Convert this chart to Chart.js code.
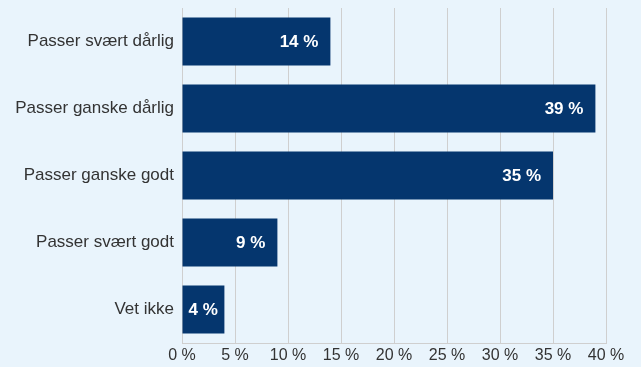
<!DOCTYPE html>
<html>
<head>
<meta charset="utf-8">
<script src="https://cdn.jsdelivr.net/npm/chart.js@4/dist/chart.umd.min.js"></script>
<style>
  html, body { margin: 0; padding: 0; background: #e9f4fc; }
  #wrap { width: 641px; height: 367px; position: relative; }
</style>
</head>
<body>
<div id="wrap"><canvas id="c" width="641" height="367"></canvas></div>
<script>
const categories = ["Passer svært dårlig", "Passer ganske dårlig", "Passer ganske godt", "Passer svært godt", "Vet ikke"];
const values = [14, 39, 35, 9, 4];
const xTicks = [0, 5, 10, 15, 20, 25, 30, 35, 40];

const barLabels = {
  id: 'barLabels',
  afterDatasetsDraw(chart) {
    const ctx = chart.ctx;
    const meta = chart.getDatasetMeta(0);
    ctx.save();
    ctx.font = 'bold 17px "Liberation Sans", Arial, sans-serif';
    ctx.fillStyle = '#ffffff';
    ctx.textAlign = 'right';
    ctx.textBaseline = 'middle';
    meta.data.forEach((bar, i) => {
      const txt = values[i] + ' %';
      const w = ctx.measureText(txt).width;
      const xr = Math.max(bar.x - 12, bar.base + 6 + w);
      ctx.fillText(txt, xr, bar.y + 1);
    });
    ctx.restore();
  }
};

new Chart(document.getElementById('c'), {
  type: 'bar',
  data: {
    labels: categories,
    datasets: [{
      data: values,
      backgroundColor: '#05366e',
      borderWidth: 0,
      barPercentage: 0.72,
      categoryPercentage: 1.0
    }]
  },
  options: {
    indexAxis: 'y',
    responsive: false,
    animation: false,
    devicePixelRatio: 1,
    layout: { padding: { left: 0, right: 35, top: 8, bottom: 0 } },
    plugins: { legend: { display: false }, tooltip: { enabled: false } },
    scales: {
      x: {
        min: 0, max: 40,
        afterBuildTicks(scale) { scale.ticks = xTicks.map(v => ({ value: v })); },
        afterFit(scale) { scale.height = 24; },
        grid: { color: '#cfcfcf', lineWidth: 1, drawTicks: false },
        border: { color: '#cfcfcf', width: 1 },
        ticks: {
          padding: 3,
          color: '#333333',
          font: { family: '"Liberation Sans", Arial, sans-serif', size: 16 },
          callback: (v) => v + ' %',
          maxRotation: 0
        }
      },
      y: {
        afterFit(scale) { scale.width = 182; scale.paddingTop = 0; scale.paddingBottom = 0; },
        grid: { display: false, drawTicks: false },
        border: { color: '#cfcfcf', width: 1 },
        ticks: {
          padding: 8,
          color: '#333333',
          font: { family: '"Liberation Sans", Arial, sans-serif', size: 17 }
        }
      }
    }
  },
  plugins: [barLabels]
});
</script>
</body>
</html>
